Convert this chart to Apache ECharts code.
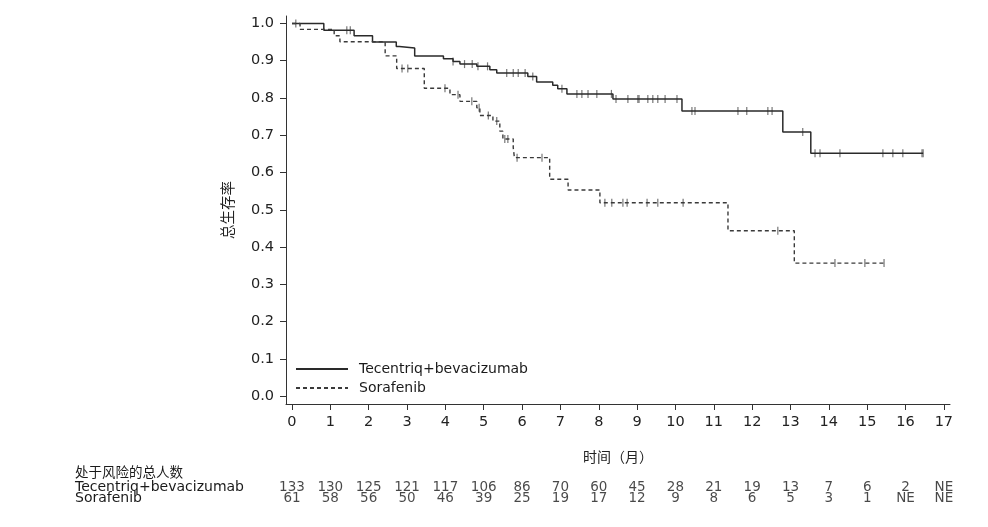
<!DOCTYPE html>
<html>
<head>
<meta charset="utf-8">
<script src="https://cdn.jsdelivr.net/npm/echarts@6/dist/echarts.min.js"></script>
<style>html,body{margin:0;padding:0;background:#fff}#c{width:988px;height:527px}</style>
</head>
<body>
<div id="c"></div>
<script>
// Kaplan-Meier step data (time in months, survival probability)
var tecTimes = [0, 0.83, 1.62, 2.1, 2.72, 2.8, 3.2, 3.95, 4.2, 4.38, 4.82, 5.16, 5.34, 6.15, 6.38, 6.8, 6.93, 7.17, 8.37, 10.17, 12.8, 13.53, 16.46];
var tecSurv  = [1.0, 0.982, 0.967, 0.950, 0.938, 0.934, 0.913, 0.905, 0.898, 0.891, 0.885, 0.876, 0.867, 0.858, 0.843, 0.834, 0.825, 0.811, 0.797, 0.765, 0.709, 0.652, 0.652];
var sorTimes = [0, 0.21, 1.1, 1.25, 2.43, 2.73, 3.45, 4.12, 4.38, 4.82, 4.9, 5.24, 5.42, 5.5, 5.77, 5.8, 6.72, 7.2, 8.03, 11.37, 13.1, 15.44];
var sorSurv  = [1.0, 0.984, 0.967, 0.951, 0.913, 0.879, 0.826, 0.809, 0.791, 0.774, 0.753, 0.738, 0.711, 0.690, 0.667, 0.640, 0.582, 0.553, 0.519, 0.444, 0.357, 0.357];
// censor times
var tecCensor = [0.1, 1.43, 1.52, 4.2, 4.5, 4.7, 4.85, 5.1, 5.6, 5.77, 5.9, 6.08, 6.28, 7.04, 7.43, 7.56, 7.72, 7.95, 8.33, 8.45, 8.76, 9.02, 9.05, 9.28, 9.41, 9.54, 9.73, 10.04, 10.43, 10.51, 11.63, 11.86, 12.41, 12.52, 13.32, 13.64, 13.77, 14.29, 15.41, 15.67, 15.93, 16.43, 16.46];
var sorCensor = [2.87, 3.02, 3.99, 4.33, 4.69, 4.88, 5.12, 5.34, 5.55, 5.63, 5.87, 6.52, 8.16, 8.34, 8.63, 8.74, 9.26, 9.54, 10.2, 12.67, 14.16, 14.94, 15.44];
// axis ticks and risk table
var xTicks = [0,1,2,3,4,5,6,7,8,9,10,11,12,13,14,15,16,17];
var yTicks = [0,0.1,0.2,0.3,0.4,0.5,0.6,0.7,0.8,0.9,1.0];
var tecRisk = [133,130,125,121,117,106,86,70,60,45,28,21,19,13,7,6,2,'NE'];
var sorRisk = [61,58,56,50,46,39,25,19,17,12,9,8,6,5,3,1,'NE','NE'];
var tecName = 'Tecentriq+bevacizumab';
var sorName = 'Sorafenib';

function stepAt(times, surv, t){
  var s = surv[0];
  for (var i=0;i<times.length;i++){ if (times[i] <= t) s = surv[i]; }
  return s;
}
function pairs(a,b){ return a.map(function(v,i){return [v,b[i]];}); }

var FONT = 'DejaVu Sans, Noto Sans CJK SC, sans-serif';
var TXT = '#222';
var chart = echarts.init(document.getElementById('c'), null, {renderer:'canvas'});
chart.setOption({
  backgroundColor:'#fff',
  animation:false,
  textStyle:{fontFamily:FONT},
  title:{text:'处于风险的总人数', left:70, top:462, textStyle:{fontSize:13.5, fontWeight:'normal', color:'#1a1a1a', fontFamily:FONT}},
  legend:{
    data:[tecName, sorName], orient:'vertical', left:290, top:357, itemWidth:52, itemHeight:12, itemGap:5,
    itemStyle:{opacity:0},
    textStyle:{fontSize:14, color:'#1a1a1a', fontFamily:FONT, padding:[0,0,0,6]}
  },
  grid:[
    {left:286, right:38, top:16, bottom:123},
    {left:286, right:38, top:482, height:22}
  ],
  xAxis:[
    {type:'value', gridIndex:0, min:-0.156, max:17.16,
     name:'时间（月）', nameLocation:'middle', nameGap:47, nameTextStyle:{fontSize:14, color:TXT, fontFamily:FONT},
     axisLine:{show:true, onZero:false, lineStyle:{color:'#333', width:1}},
     axisTick:{show:true, length:6, inside:false, customValues:xTicks, lineStyle:{color:'#333'}},
     axisLabel:{show:true, customValues:xTicks, margin:11, fontSize:14.5, color:TXT, fontFamily:FONT},
     splitLine:{show:false}},
    {type:'value', gridIndex:1, min:-0.156, max:17.16, show:false}
  ],
  yAxis:[
    {type:'value', gridIndex:0, min:-0.021, max:1.02,
     name:'总生存率', nameLocation:'middle', nameGap:50, nameRotate:90, nameTextStyle:{fontSize:14.5, color:TXT, fontFamily:FONT},
     axisLine:{show:true, onZero:false, lineStyle:{color:'#333', width:1}},
     axisTick:{show:true, length:6, customValues:yTicks, lineStyle:{color:'#333'}},
     axisLabel:{show:true, customValues:yTicks, margin:12, fontSize:14.5, color:TXT, fontFamily:FONT,
       formatter:function(v){return Number(v).toFixed(1);}},
     splitLine:{show:false}},
    {type:'category', gridIndex:1, data:[sorName, tecName],
     axisLine:{show:false}, axisTick:{show:false}, splitLine:{show:false},
     axisLabel:{show:true, interval:0, margin:211, align:'left', fontSize:14, color:'#1a1a1a', fontFamily:FONT}}
  ],
  series:[
    {name:tecName, type:'line', step:'end', xAxisIndex:0, yAxisIndex:0, showSymbol:false, symbol:'none',
     data:pairs(tecTimes, tecSurv), lineStyle:{color:'#2a2a2a', width:1.5, type:'solid'}, itemStyle:{color:'rgba(0,0,0,0)'}},
    {name:sorName, type:'line', step:'end', xAxisIndex:0, yAxisIndex:0, showSymbol:false, symbol:'none',
     data:pairs(sorTimes, sorSurv), lineStyle:{color:'#3a3a3a', width:1.4, type:[4,3]}, itemStyle:{color:'rgba(0,0,0,0)'}},
    {name:'tecCensor', type:'scatter', xAxisIndex:0, yAxisIndex:0, symbol:'rect', symbolSize:[1.2,8], silent:true,
     itemStyle:{color:'#555'}, data:tecCensor.map(function(t){return [t, stepAt(tecTimes, tecSurv, t)];})},
    {name:'sorCensor', type:'scatter', xAxisIndex:0, yAxisIndex:0, symbol:'rect', symbolSize:[1.2,8], silent:true,
     itemStyle:{color:'#555'}, data:sorCensor.map(function(t){return [t, stepAt(sorTimes, sorSurv, t)];})},
    {name:'tecRisk', type:'scatter', xAxisIndex:1, yAxisIndex:1, symbolSize:1, silent:true,
     itemStyle:{color:'rgba(0,0,0,0)'},
     label:{show:true, position:'inside', fontSize:13.5, color:'#1a1a1a', fontFamily:FONT, formatter:function(p){return p.value[2];}},
     data:xTicks.map(function(t,i){return [t, tecName, tecRisk[i]];})},
    {name:'sorRisk', type:'scatter', xAxisIndex:1, yAxisIndex:1, symbolSize:1, silent:true,
     itemStyle:{color:'rgba(0,0,0,0)'},
     label:{show:true, position:'inside', fontSize:13.5, color:'#1a1a1a', fontFamily:FONT, formatter:function(p){return p.value[2];}},
     data:xTicks.map(function(t,i){return [t, sorName, sorRisk[i]];})}
  ]
});
</script>
</body>
</html>
